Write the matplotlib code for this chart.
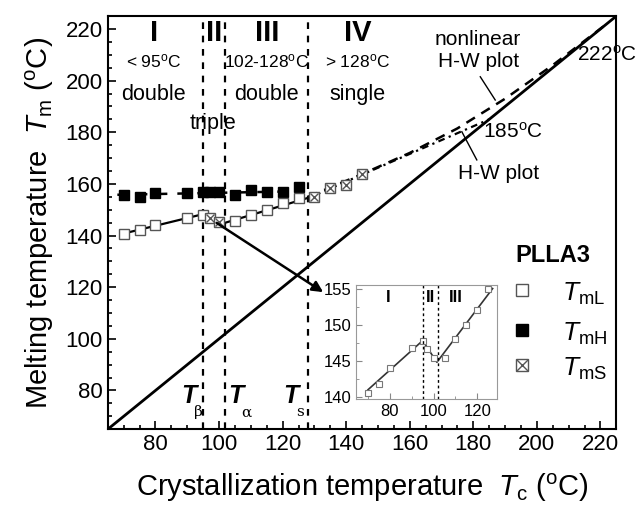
import numpy as np
import matplotlib.pyplot as plt
from matplotlib.ticker import MultipleLocator

plt.rcParams['font.family'] = ['Liberation Sans', 'DejaVu Sans']
plt.rcParams['mathtext.fontset'] = 'custom'
plt.rcParams['mathtext.rm'] = 'Liberation Sans'
plt.rcParams['mathtext.it'] = 'Liberation Sans:italic'
plt.rcParams['mathtext.bf'] = 'Liberation Sans:bold'

# Data (Tc, Tm in degC).
tc_L = [70, 75, 80, 90, 95, 105, 110, 115, 120, 125]
tm_L = [140.6, 142.1, 144.1, 146.7, 147.9, 145.7, 147.9, 149.9, 152.5, 154.4]
tc_H = [70, 75, 80, 90, 95, 97, 100, 105, 110, 115, 120, 125]
tm_H = [155.7, 155.0, 156.4, 156.4, 157.0, 156.7, 156.7, 155.7, 157.6, 157.0, 157.0, 158.9]
tc_S = [97, 100, 130, 135, 140, 145]
tm_S = [146.7, 145.3, 155.0, 158.3, 159.6, 163.7]

# fitted lines
fit1_tc, fit1_tm = [70, 95], [140.8, 148.3]
fit3_tc, fit3_tm = [101.5, 128], [144.8, 154.6]
fitH_tc, fitH_tm = [68, 127], [155.8, 157.2]
hw_tc, hw_tm = [128, 185], [154.5, 185]
nl_tc = [128, 145, 160, 175, 190, 205, 222]
nl_tm = [155, 163.8, 172, 181.5, 193, 206, 222]

# inset data
in_tc = [70, 75, 80, 90, 95, 97, 100, 105, 110, 115, 120, 125]
in_tm = [140.6, 141.8, 144.0, 146.8, 147.8, 146.6, 145.4, 145.4, 148.0, 149.9, 152.1, 154.9]
in_fit_tc = [70, 95, 101.5, 127]
in_fit_tm = [141.0, 147.8, 144.8, 155.0]

regions = [95, 102, 128]

fig = plt.figure(figsize=(6.38, 5.19), dpi=100)
ax = fig.add_axes([0.169, 0.173, 0.797, 0.796])

ax.plot([65, 225], [65, 225], color='black', lw=2)
for t in regions:
    ax.axvline(t, color='black', lw=1.6, ls=(0, (3, 3)))

ax.plot(fit1_tc, fit1_tm, color='black', lw=1.6)
ax.plot(fit3_tc, fit3_tm, color='black', lw=1.6)
ax.plot(fitH_tc, fitH_tm, color='black', lw=1.8, ls=(0, (4, 4)))
ax.plot(hw_tc, hw_tm, color='black', lw=1.6, ls=(0, (3, 2, 1, 2)))
ax.plot(nl_tc, nl_tm, color='black', lw=1.8, ls=(0, (4, 3)))

ax.plot(tc_H, tm_H, 's', color='black', ms=7.5)
ax.plot(tc_L, tm_L, 's', mfc='white', mec='#555555', mew=1, ms=7.5)
ax.plot(tc_S, tm_S, 's', mfc='white', mec='#555555', mew=1, ms=7.5)
ax.plot(tc_S, tm_S, 'x', color='#555555', mew=1, ms=6)

ax.annotate('', xy=(133.5, 117.5), xytext=(98.5, 145.5),
            arrowprops=dict(arrowstyle='-|>', color='black', lw=1.8, mutation_scale=16))

ax.set_xlim(65, 225)
ax.set_ylim(65, 225)
ax.xaxis.set_major_locator(MultipleLocator(20))
ax.xaxis.set_minor_locator(MultipleLocator(5))
ax.yaxis.set_major_locator(MultipleLocator(20))
ax.yaxis.set_minor_locator(MultipleLocator(5))
ax.tick_params(which='both', direction='in', width=1.2, labelsize=16)
ax.tick_params(which='major', length=6)
ax.tick_params(which='minor', length=3)
ax.set_xticks(range(80, 221, 20))
for s in ax.spines.values():
    s.set_linewidth(1.5)

ax.set_xlabel(r'Crystallization temperature  $T_{\rm c}$ ($^{\rm o}$C)', fontsize=21, labelpad=12)
ax.set_ylabel(r'Melting temperature  $T_{\rm m}$ ($^{\rm o}$C)', fontsize=21, labelpad=7)

# region labels
for x, roman, rng, kind in [(79.5, 'I', r'< 95$^{\rm o}$C', 'double'),
                            (98.5, 'II', '', ''),
                            (115, 'III', r'102-128$^{\rm o}$C', 'double'),
                            (143.5, 'IV', r'> 128$^{\rm o}$C', 'single')]:
    ax.text(x, 218.5, roman, fontsize=21, fontweight='bold', ha='center', va='center')
    if rng:
        ax.text(x, 207.5, rng, fontsize=12.5, ha='center', va='center')
        ax.text(x, 194.5, kind, fontsize=15.5, ha='center', va='center')
ax.text(98.2, 183.5, 'triple', fontsize=15.5, ha='center', va='center')

ax.text(181.5, 211.5, 'nonlinear\nH-W plot', fontsize=15, ha='center', va='center', linespacing=1.2)
ax.plot([182.2, 186.9], [201.5, 192.5], color='black', lw=1)
ax.text(222, 210, r'222$^{\rm o}$C', fontsize=15, ha='center', va='center')
ax.text(192.6, 180.1, r'185$^{\rm o}$C', fontsize=15, ha='center', va='center')
ax.text(187.8, 164.2, 'H-W plot', fontsize=15, ha='center', va='center')
ax.plot([176.4, 181.1], [180.2, 169.3], color='black', lw=1)

for x, sub in [(90.6, '\u03b2'), (105.3, '\u03b1'), (122.7, 's')]:
    ax.text(x, 78, 'T', fontsize=18, fontweight='bold', fontstyle='italic', ha='center', va='center')
    ax.text(x + 1.6, 71.5, sub, fontsize=11, family='DejaVu Serif', ha='left', va='center')

# legend drawn by hand
ax.text(0.876, 0.421, 'PLLA3', transform=ax.transAxes, fontsize=17, fontweight='bold',
        ha='center', va='center')
leg_y = [0.337, 0.24, 0.155]
ax.plot(0.815, leg_y[0], 's', mfc='white', mec='#555555', ms=9, transform=ax.transAxes, clip_on=False)
ax.plot(0.815, leg_y[1], 's', color='black', ms=9, transform=ax.transAxes, clip_on=False)
ax.plot(0.815, leg_y[2], 's', mfc='white', mec='#555555', ms=9, transform=ax.transAxes, clip_on=False)
ax.plot(0.815, leg_y[2], 'x', color='#555555', ms=8, transform=ax.transAxes, clip_on=False)
for y, sub in zip(leg_y, ['mL', 'mH', 'mS']):
    ax.text(0.893, y - 0.01, r'$T_{\rm ' + sub + '}$', transform=ax.transAxes, fontsize=19,
            ha='left', va='center')

# inset
axin = fig.add_axes([0.558, 0.231, 0.221, 0.220])
axin.plot(in_fit_tc, in_fit_tm, color='#333333', lw=1.2)
axin.plot(in_tc, in_tm, 's', mfc='white', mec='#777777', ms=5, mew=0.8)
for t in regions[:2]:
    axin.axvline(t, color='black', lw=1, ls=(0, (2, 2)))
axin.text(79.2, 153.7, 'I', fontsize=12, fontweight='bold', ha='center', va='center')
axin.text(98.5, 153.7, 'II', fontsize=12, fontweight='bold', ha='center', va='center')
axin.text(110, 153.7, 'III', fontsize=12, fontweight='bold', ha='center', va='center')
axin.set_xlim(64.5, 129)
axin.set_ylim(139.7, 155.5)
axin.set_xticks([80, 100, 120])
axin.set_yticks([140, 145, 150, 155])
axin.xaxis.set_minor_locator(MultipleLocator(10))
axin.yaxis.set_minor_locator(MultipleLocator(2.5))
axin.tick_params(which='both', direction='in', labelsize=12, color='#888888')
axin.tick_params(which='major', length=4)
axin.tick_params(which='minor', length=2)
for s in axin.spines.values():
    s.set_color('#999999')

fig.savefig('out.png', dpi=100)
